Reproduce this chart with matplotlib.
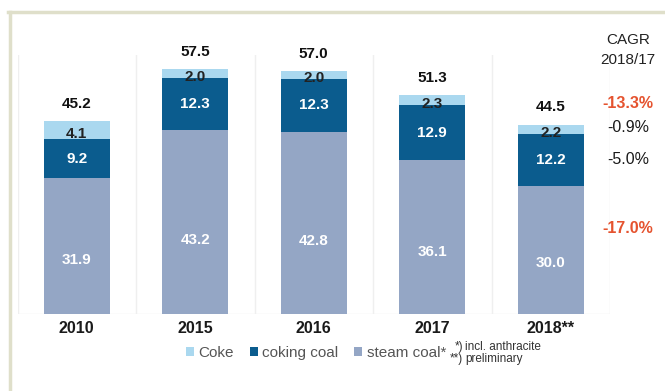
import matplotlib
matplotlib.use("Agg")
import matplotlib.pyplot as plt
from matplotlib.patches import Patch
from matplotlib.lines import Line2D

plt.rcParams['font.family'] = ['Liberation Sans', 'DejaVu Sans']

# Coal imports by type (million t)
years = ["2010", "2015", "2016", "2017", "2018**"]
steam_coal = [31.9, 43.2, 42.8, 36.1, 30.0]
coking_coal = [9.2, 12.3, 12.3, 12.9, 12.2]
coke = [4.1, 2.0, 2.0, 2.3, 2.2]
totals = [45.2, 57.5, 57.0, 51.3, 44.5]

cagr_title = ["CAGR", "2018/17"]
cagr_values = ["-13.3%", "-0.9%", "-5.0%", "-17.0%"]
cagr_red = [True, False, False, True]

c_coke = "#aad8ef"
c_coking = "#0b5c8e"
c_steam = "#94a6c5"

W, H = 665, 391
fig = plt.figure(figsize=(W / 100, H / 100), dpi=100)
ax_left, ax_right, ax_bottom, ax_top = 17.5, 610, 314, 55
ax = fig.add_axes([ax_left / W, 1 - ax_bottom / H,
                   (ax_right - ax_left) / W, (ax_bottom - ax_top) / H])

x = list(range(len(years)))
bw = 0.555
ax.bar(x, steam_coal, bw, color=c_steam, zorder=2)
base2 = steam_coal
ax.bar(x, coking_coal, bw, bottom=base2, color=c_coking, zorder=2)
base3 = [a + b for a, b in zip(steam_coal, coking_coal)]
ax.bar(x, coke, bw, bottom=base3, color=c_coke, zorder=2)

ax.set_xlim(-0.5, len(years) - 0.5)
ax.set_ylim(0, 60.8)
for s in ax.spines.values():
    s.set_visible(False)
ax.set_yticks([])
ax.set_xticks(x)
ax.set_xticklabels(years, fontsize=11.5, fontweight="bold", color="#1a1a1a")
ax.tick_params(axis="x", length=0, pad=5)

# column separators and baseline
for b in [i - 0.5 for i in range(len(years) + 1)]:
    ax.axvline(b, color="#efefef", lw=1, zorder=1)
ax.axhline(0, color="#efefef", lw=1, zorder=1)

lab_kw = dict(ha="center", va="center", fontsize=11, fontweight="bold")
for i in x:
    ax.text(i, steam_coal[i] * 0.4, f"{steam_coal[i]:.1f}", color="white", **lab_kw)
    ax.text(i, base2[i] + coking_coal[i] / 2, f"{coking_coal[i]:.1f}", color="white", **lab_kw)
    ax.annotate(f"{coke[i]:.1f}", (i, base3[i] + coke[i] / 2), xytext=(0, -2.5),
                textcoords="offset points", color="#222222", clip_on=False, **lab_kw)
    ax.annotate(f"{totals[i]:.1f}", (i, totals[i]), xytext=(0, 12.5),
                textcoords="offset points", color="#111111", clip_on=False, **lab_kw)

# CAGR column
cx = 628 / W
fig.text(cx, 1 - 40 / H, cagr_title[0], ha="center", va="center", fontsize=11, color="#222222")
fig.text(cx, 1 - 60 / H, cagr_title[1], ha="center", va="center", fontsize=11, color="#222222")
for txt, red, yp in zip(cagr_values, cagr_red, [103, 127, 160, 228]):
    fig.text(cx, 1 - yp / H, txt, ha="center", va="center", fontsize=11.5,
             fontweight="bold" if red else "normal",
             color="#e5532f" if red else "#1a1a1a")

# legend
handles = [Patch(facecolor=c_coke, label="Coke"),
           Patch(facecolor=c_coking, label="coking coal"),
           Patch(facecolor=c_steam, label="steam coal*")]
leg = fig.legend(handles=handles, loc="center", bbox_to_anchor=(316 / W, 1 - 353 / H),
                 ncol=3, frameon=False, fontsize=11, handlelength=0.55, handleheight=0.55,
                 handletextpad=0.3, columnspacing=1.0)
for t in leg.get_texts():
    t.set_color("#555555")

# footnotes
fn_kw = dict(va="center", fontsize=8.5, color="#333333")
fig.text(463 / W, 1 - 347 / H, "*)", ha="right", **fn_kw)
fig.text(465 / W, 1 - 347 / H, "incl. anthracite", ha="left", **fn_kw)
fig.text(463 / W, 1 - 359 / H, "**)", ha="right", **fn_kw)
fig.text(465 / W, 1 - 359 / H, "preliminary", ha="left", **fn_kw)

# outer frame
frame = "#dfdfca"
fig.add_artist(Line2D([9.5 / W, 9.5 / W], [0, 1 - 11.5 / H], color=frame, lw=2.5,
                      transform=fig.transFigure))
fig.add_artist(Line2D([8.3 / W, 1], [1 - 11.5 / H, 1 - 11.5 / H], color=frame, lw=2.5,
                      transform=fig.transFigure))

fig.savefig("out.png", dpi=100, facecolor="white")
